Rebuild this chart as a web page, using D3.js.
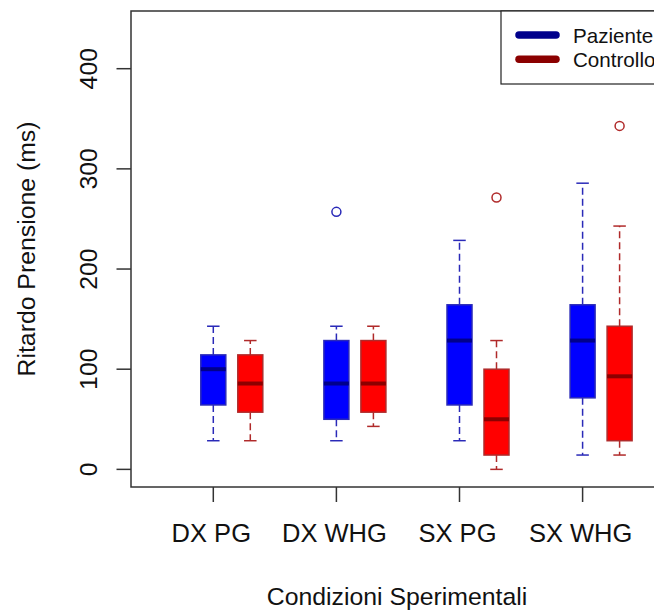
<!DOCTYPE html>
<html>
<head>
<meta charset="utf-8">
<script src="https://cdn.jsdelivr.net/npm/d3@7"></script>
<style>
  body { margin: 0; background: #fff; }
  svg { display: block; font-family: "Liberation Sans", Arial, sans-serif; }
</style>
</head>
<body>
<script>
// categories and the two groups
const categories = ["DX PG", "DX WHG", "SX PG", "SX WHG"];
const groups = ["Paziente", "Controllo"];

// [lower whisker, Q1, median, Q3, upper whisker] per category
const pazienteStats = [
    [28.6, 64.3, 100, 114.3, 142.9],
    [28.6, 50, 85.7, 128.6, 142.9],
    [28.6, 64.3, 128.6, 164.3, 228.6],
    [14.3, 71.4, 128.6, 164.3, 285.7]
];
const controlloStats = [
    [28.6, 57.1, 85.7, 114.3, 128.6],
    [42.9, 57.1, 85.7, 128.6, 142.9],
    [0, 14.3, 50, 100, 128.6],
    [14.3, 28.6, 92.9, 142.9, 242.9]
];
const pazienteOutliers = [[], [257.1], [], []];
const controlloOutliers = [[], [], [271.4], [342.9]];

const yTicks = [0, 100, 200, 300, 400];

const W = 654, H = 612;
const plot = { left: 131, top: 11, bottom: 487 };

const svg = d3.select("body").append("svg")
    .attr("width", W)
    .attr("height", H);

const y = d3.scaleLinear()
    .domain([-17.6, 457.6])
    .range([plot.bottom, plot.top]);

const x = d3.scalePoint()
    .domain(categories)
    .range([213.3, 582.6]);

const boxW = 25;
const offset = { Paziente: 0, Controllo: 37 };
const fill = { Paziente: "#0000ff", Controllo: "#ff0000" };
const border = { Paziente: "#00008b", Controllo: "#8b0000" };
const whisk = { Paziente: "#2a2ab8", Controllo: "#b02a2a" };

const boxes = [];
categories.forEach((c, i) => {
    boxes.push({ cat: c, group: "Paziente", s: pazienteStats[i], out: pazienteOutliers[i] });
    boxes.push({ cat: c, group: "Controllo", s: controlloStats[i], out: controlloOutliers[i] });
});

const g = svg.selectAll(".box")
    .data(boxes)
    .enter().append("g")
    .attr("class", "box")
    .attr("transform", d => `translate(${x(d.cat) + offset[d.group]},0)`);

// whiskers
g.append("line")
    .attr("y1", d => y(d.s[1])).attr("y2", d => y(d.s[0]))
    .attr("stroke", d => whisk[d.group])
    .attr("stroke-width", 1.5)
    .attr("stroke-dasharray", "7,4");
g.append("line")
    .attr("y1", d => y(d.s[3])).attr("y2", d => y(d.s[4]))
    .attr("stroke", d => whisk[d.group])
    .attr("stroke-width", 1.5)
    .attr("stroke-dasharray", "7,4");
// staples
[0, 4].forEach(k => {
    g.append("line")
        .attr("x1", -boxW / 4).attr("x2", boxW / 4)
        .attr("y1", d => y(d.s[k])).attr("y2", d => y(d.s[k]))
        .attr("stroke", d => whisk[d.group])
        .attr("stroke-width", 1.5);
});

g.append("rect")
    .attr("x", -boxW / 2)
    .attr("width", boxW)
    .attr("y", d => y(d.s[3]))
    .attr("height", d => y(d.s[1]) - y(d.s[3]))
    .attr("fill", d => fill[d.group])
    .attr("stroke", d => whisk[d.group])
    .attr("stroke-width", 1.5);

g.append("line")
    .attr("x1", -boxW / 2).attr("x2", boxW / 2)
    .attr("y1", d => y(d.s[2])).attr("y2", d => y(d.s[2]))
    .attr("stroke", d => border[d.group])
    .attr("stroke-width", 4);

g.selectAll("circle")
    .data(d => d.out.map(v => ({ v, group: d.group })))
    .enter().append("circle")
    .attr("cy", d => y(d.v))
    .attr("r", 4.5)
    .attr("fill", "none")
    .attr("stroke", d => whisk[d.group])
    .attr("stroke-width", 1.5);

// frame
svg.append("rect")
    .attr("x", plot.left).attr("y", plot.top)
    .attr("width", 700).attr("height", plot.bottom - plot.top)
    .attr("fill", "none")
    .attr("stroke", "#333")
    .attr("stroke-width", 1.5);

// y axis
const yAxis = svg.append("g");
yAxis.selectAll("line")
    .data(yTicks).enter().append("line")
    .attr("x1", 116.5).attr("x2", plot.left)
    .attr("y1", d => y(d)).attr("y2", d => y(d))
    .attr("stroke", "#333").attr("stroke-width", 1.5);
yAxis.selectAll("text")
    .data(yTicks).enter().append("text")
    .attr("transform", d => `translate(97,${y(d)}) rotate(-90)`)
    .attr("text-anchor", "middle")
    .style("font-size", "24.8px")
    .attr("fill", "#111")
    .text(d => d);

// x axis
const xAxis = svg.append("g");
xAxis.selectAll("line")
    .data(categories).enter().append("line")
    .attr("x1", d => x(d)).attr("x2", d => x(d))
    .attr("y1", plot.bottom).attr("y2", 502)
    .attr("stroke", "#333").attr("stroke-width", 1.5);
xAxis.selectAll("text")
    .data(categories).enter().append("text")
    .attr("x", d => x(d) - 2)
    .attr("y", 542)
    .attr("text-anchor", "middle")
    .style("font-size", "25.5px")
    .attr("fill", "#111")
    .text(d => d);

svg.append("text")
    .attr("x", 397).attr("y", 605)
    .attr("text-anchor", "middle")
    .style("font-size", "24.8px")
    .attr("fill", "#111")
    .text("Condizioni Sperimentali");

svg.append("text")
    .attr("transform", `translate(35,${(plot.top + plot.bottom) / 2}) rotate(-90)`)
    .attr("text-anchor", "middle")
    .style("font-size", "24.8px")
    .attr("fill", "#111")
    .text("Ritardo Prensione (ms)");

// legend
const legend = svg.append("g");
legend.append("rect")
    .attr("x", 501).attr("y", plot.top)
    .attr("width", 300).attr("height", 73)
    .attr("fill", "#fff")
    .attr("stroke", "#222")
    .attr("stroke-width", 1.2);
const li = legend.selectAll(".item")
    .data(groups).enter().append("g")
    .attr("class", "item")
    .attr("transform", (d, i) => `translate(0,${35 + i * 24.3})`);
li.append("line")
    .attr("x1", 519).attr("x2", 556)
    .attr("stroke", d => border[d])
    .attr("stroke-width", 7.5)
    .attr("stroke-linecap", "round");
li.append("text")
    .attr("x", 573).attr("y", 8)
    .style("font-size", "20.6px")
    .attr("fill", "#111")
    .text(d => d);
</script>
</body>
</html>
